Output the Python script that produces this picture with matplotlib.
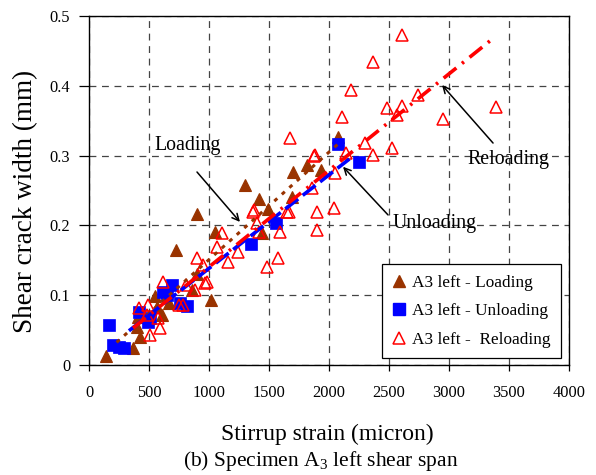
import numpy as np
import matplotlib
matplotlib.use("Agg")
import matplotlib.pyplot as plt
from matplotlib.lines import Line2D

plt.rcParams["font.family"] = ["Liberation Serif", "DejaVu Serif"]
plt.rcParams["mathtext.fontset"] = "custom"
plt.rcParams["mathtext.rm"] = "Liberation Serif"
plt.rcParams["mathtext.it"] = "Liberation Serif:italic"

# Stirrup strain (micron) vs shear crack width (mm)
loading_x = [142, 367, 400, 425, 408, 550, 567, 608, 667, 725, 858, 900, 900,
             1017, 1050, 1300, 1417, 1442, 1492, 1692, 1700, 1817, 1933, 2075]
loading_y = [0.013, 0.024, 0.055, 0.040, 0.069, 0.099, 0.083, 0.072, 0.089,
             0.165, 0.107, 0.130, 0.216, 0.093, 0.191, 0.258, 0.238, 0.189,
             0.223, 0.241, 0.277, 0.287, 0.279, 0.327]

unloading_x = [167, 200, 250, 292, 417, 492, 508, 617, 650, 692, 758, 817,
               1350, 1558, 2075, 2250]
unloading_y = [0.057, 0.029, 0.026, 0.024, 0.076, 0.062, 0.067, 0.105, 0.100,
               0.115, 0.089, 0.085, 0.173, 0.203, 0.317, 0.291]

reloading_x = [417, 492, 508, 592, 575, 483, 617, 750, 783, 808, 900, 883,
               983, 950, 1067, 1108, 1158, 1242, 1375, 1400, 1417, 1483, 1575,
               1592, 1650, 1858, 1883, 1900, 1900, 1675, 2042, 2050, 1875,
               2142, 2108, 2183, 2300, 2367, 2367, 2483, 2525, 2567, 2608,
               2608, 2742, 2950, 3392, 1367, 1667, 967]
reloading_y = [0.082, 0.086, 0.043, 0.053, 0.067, 0.072, 0.119, 0.086, 0.086,
               0.115, 0.153, 0.107, 0.119, 0.143, 0.169, 0.189, 0.148, 0.162,
               0.222, 0.203, 0.191, 0.141, 0.153, 0.191, 0.219, 0.254, 0.301,
               0.219, 0.193, 0.325, 0.225, 0.275, 0.299, 0.304, 0.355, 0.394,
               0.318, 0.301, 0.434, 0.368, 0.311, 0.358, 0.371, 0.473, 0.387,
               0.352, 0.370, 0.219, 0.219, 0.117]

# Linear trend lines: slope, intercept, strain range
loading_trend = (1.54e-4, -0.003, 230, 2075)
unloading_trend = (1.34e-4, 0.0044, 333, 2170)
reloading_trend = (1.383e-4, 0.0022, 367, 3367)

x_ticks = [0, 500, 1000, 1500, 2000, 2500, 3000, 3500, 4000]
y_ticks = [0, 0.1, 0.2, 0.3, 0.4, 0.5]
y_tick_labels = ["0", "0.1", "0.2", "0.3", "0.4", "0.5"]

brown = "#993300"
blue = "#0000FF"
red = "#FF0000"

fig = plt.figure(figsize=(5.96, 4.75), dpi=100)
ax = fig.add_axes([89 / 596, 110 / 475, 480 / 596, 349 / 475])

ax.plot(loading_x, loading_y, linestyle="none", marker="^", ms=8.3,
        mfc=brown, mec=brown, mew=0.8, zorder=3)
ax.plot(unloading_x, unloading_y, linestyle="none", marker="s", ms=8.3,
        mfc=blue, mec=blue, mew=0.5, zorder=3)
ax.plot(reloading_x, reloading_y, linestyle="none", marker="^", ms=9.3,
        mfc="none", mec=red, mew=1.1, zorder=3)


def trend(spec):
    slope, intercept, x0, x1 = spec
    xs = np.array([x0, x1], dtype=float)
    return xs, slope * xs + intercept


tx, ty = trend(loading_trend)
ax.plot(tx, ty, color=brown, lw=2.2, dashes=(1.3, 2.0), zorder=4)
tx, ty = trend(unloading_trend)
ax.plot(tx, ty, color=blue, lw=2.6, dashes=(4.5, 1.6), zorder=4)
tx, ty = trend(reloading_trend)
ax.plot(tx, ty, color=red, lw=2.6, dashes=(4.5, 2.0, 0.7, 2.0), zorder=4)

ax.set_xlim(0, 4000)
ax.set_ylim(0, 0.5)
ax.set_xticks(x_ticks)
ax.set_yticks(y_ticks)
ax.set_yticklabels(y_tick_labels)
ax.grid(True, color="#444444", linestyle=(0, (5.5, 4.5)), linewidth=0.9)
ax.set_axisbelow(True)
for s in ax.spines.values():
    s.set_linewidth(1.0)
ax.tick_params(axis="x", direction="out", length=4.5, width=0.9, pad=10,
               labelsize=11.8)
ax.tick_params(axis="y", direction="out", length=7.5, width=0.9, pad=6,
               labelsize=11.8)

ax.set_ylabel("Shear crack width (mm)", fontsize=19.5)
ax.yaxis.set_label_coords(-0.106, 0.47)

fig.text(327 / 596, 1 - 434 / 475, "Stirrup strain (micron)", fontsize=17,
         ha="center", va="center")
fig.text(321 / 596, 1 - 461 / 475, "(b) Specimen A$_3$ left shear span",
         fontsize=15.5, ha="center", va="center")

arrow = dict(arrowstyle="->", color="black", lw=1.1, mutation_scale=12,
             shrinkA=0, shrinkB=0)
ax.annotate("", xy=(1258, 0.205), xytext=(900, 0.2765), arrowprops=arrow)
ax.text(542, 0.315, "Loading", fontsize=14.3, ha="left", va="center")
ax.annotate("", xy=(2117, 0.284), xytext=(2492, 0.215), arrowprops=arrow)
ax.text(2533, 0.203, "Unloading", fontsize=14.3, ha="left", va="center")
ax.annotate("", xy=(2942, 0.401), xytext=(3367, 0.318), arrowprops=arrow)
ax.text(3150, 0.294, "Reloading", fontsize=14.3, ha="left", va="center")

handles = [
    Line2D([], [], linestyle="none", marker="^", ms=8.3, mfc=brown, mec=brown),
    Line2D([], [], linestyle="none", marker="s", ms=8.3, mfc=blue, mec=blue),
    Line2D([], [], linestyle="none", marker="^", ms=9.3, mfc="none", mec=red,
           mew=1.1),
]
labels = ["A3 left - Loading", "A3 left - Unloading", "A3 left -  Reloading"]
leg = ax.legend(handles, labels, loc="lower right",
                bbox_to_anchor=(0.983, 0.02), fontsize=12.4, frameon=True,
                fancybox=False, edgecolor="black", framealpha=1,
                handlelength=0.8, handletextpad=0.35, labelspacing=0.72,
                borderpad=0.6, borderaxespad=0)
leg.get_frame().set_linewidth(0.9)

fig.savefig("out.png", dpi=100)
